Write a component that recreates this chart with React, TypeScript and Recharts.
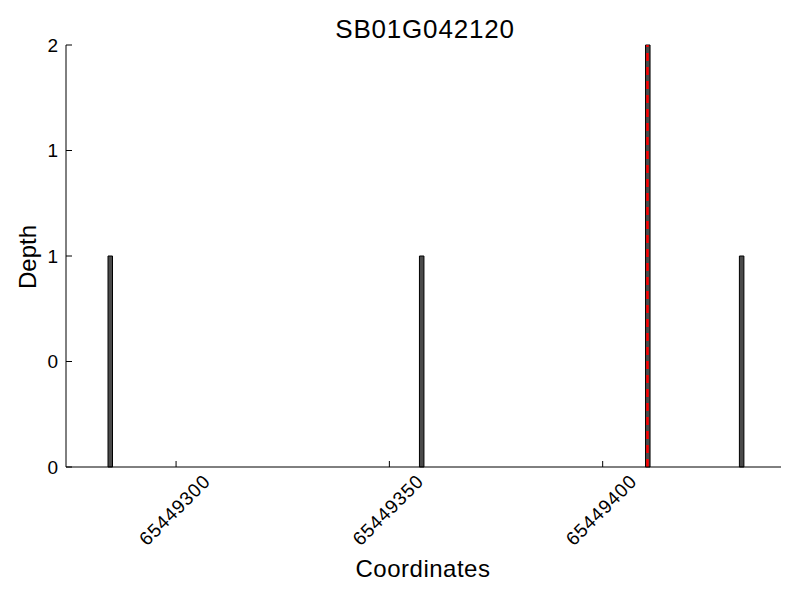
import { ComposedChart, Bar, XAxis, YAxis, ReferenceLine } from "recharts"

const positions = [65449284, 65449357, 65449410, 65449432]
const depths = [1, 1, 2, 1]
const xTicks = [65449300, 65449350, 65449400]
const yTicks = [0, 0.5, 1, 1.5, 2]
const yTickLabels = ["0", "0", "1", "1", "2"]
const markerPosition = 65449410
const title = "SB01G042120"

// each bar covers [pos, pos + 1], so its centre sits half a unit right
const data = positions.map((p, i) => ({ x: p + 0.5, depth: depths[i] }))

const FONT = "'Liberation Sans', Arial, sans-serif"

const XTick = ({ x, y, payload }: any) => (
  <g>
    <line x1={x} x2={x} y1={y} y2={y - 6} stroke="#000" />
    <text
      transform={`translate(${x - 1.5},${y + 43}) rotate(-45)`}
      textAnchor="middle"
      dy="0.35em"
      fontSize={19}
      letterSpacing={0.8}
      fontFamily={FONT}
      fill="#000"
    >
      {payload.value}
    </text>
  </g>
)

const YTick = ({ x, y, payload, index }: any) => (
  <g>
    <line x1={x} x2={x + 6} y1={y} y2={y} stroke="#000" />
    <text x={x - 8} y={y} dy="0.35em" textAnchor="end" fontSize={19} fontFamily={FONT} fill="#000">
      {yTickLabels[index] ?? payload.value}
    </text>
  </g>
)

export default function App() {
  return (
    <div style={{ position: "absolute", left: 0, top: 0, width: 800, height: 600, background: "#fff" }}>
      <svg width={800} height={60} style={{ position: "absolute", left: 0, top: 0 }}>
        <text x={425} y={38} textAnchor="middle" fontSize={26} letterSpacing={0.8} fontFamily={FONT} fill="#000">
          {title}
        </text>
      </svg>
      <ComposedChart width={800} height={600} data={data} margin={{ top: 45, right: 19, left: 0, bottom: 0 }}>
        <XAxis
          dataKey="x"
          type="number"
          domain={[65449274.2, 65449441.8]}
          ticks={xTicks}
          allowDataOverflow
          height={133}
          tickSize={0}
          tickMargin={0}
          tickLine={false}
          axisLine={{ stroke: "#000" }}
          tick={<XTick />}
          interval={0}
          label={{
            content: () => (
              <text x={423} y={577} textAnchor="middle" fontSize={24} letterSpacing={0.5} fontFamily={FONT} fill="#000">
                Coordinates
              </text>
            ),
          }}
        />
        <YAxis
          type="number"
          domain={[0, 2]}
          ticks={yTicks}
          width={66}
          tickSize={0}
          tickMargin={0}
          tickLine={false}
          axisLine={{ stroke: "#000" }}
          tick={<YTick />}
          interval={0}
          label={{
            content: () => (
              <text
                x={27}
                y={257}
                transform="rotate(-90 27 257)"
                textAnchor="middle"
                dominantBaseline="central"
                fontSize={24}
                fontFamily={FONT}
                fill="#000"
              >
                Depth
              </text>
            ),
          }}
        />
        <Bar dataKey="depth" barSize={4.5} fill="#4a4a4a" stroke="#000" strokeWidth={1} isAnimationActive={false} />
        <ReferenceLine x={markerPosition + 0.5} stroke="#ff0000" strokeWidth={2.5} strokeDasharray="8 6" />
      </ComposedChart>
    </div>
  )
}
